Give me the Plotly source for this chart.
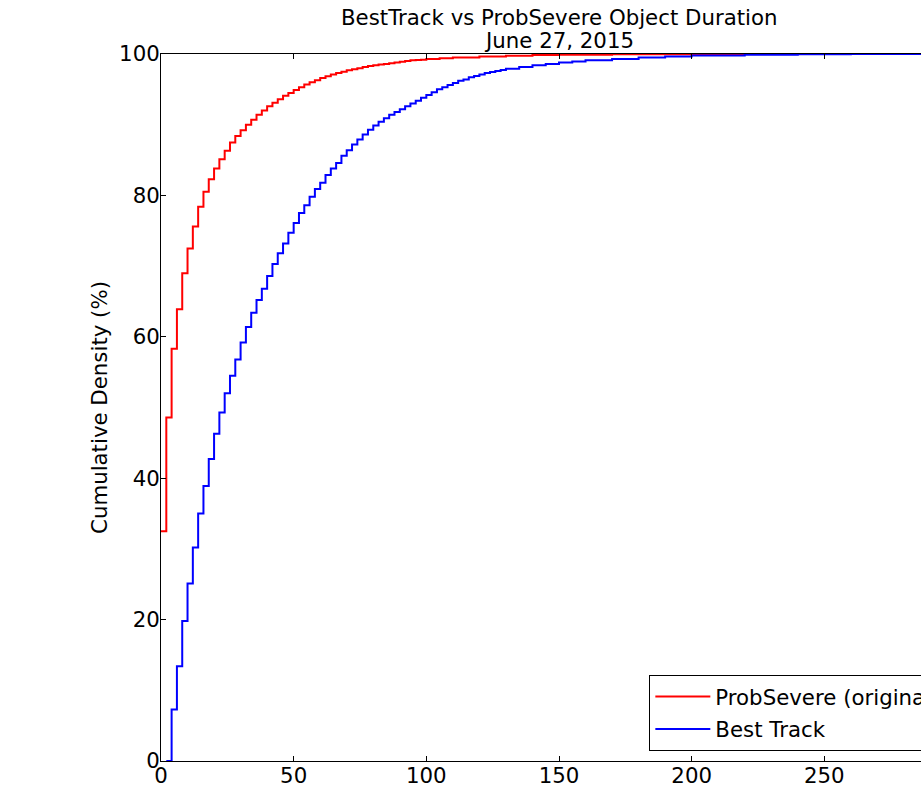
import plotly.graph_objects as go

# ProbSevere (original) cumulative density, duration (min) vs percent
red_x = [0, 2, 4, 6, 8, 10, 12, 14, 16, 18, 20, 22, 24, 26, 28, 30, 32, 34, 36, 38,
         40, 42, 44, 46, 48, 50, 52, 54, 56, 58, 60, 62, 64, 66, 68, 70, 72, 74, 76, 78,
         80, 82, 84, 86, 88, 90, 92, 94, 96, 98, 100, 105, 110, 120, 130, 140, 150, 170,
         200, 240]
red_y = [32.5, 48.6, 58.3, 63.9, 69.0, 72.5, 75.6, 78.4, 80.5, 82.3, 83.8, 85.1, 86.3,
         87.5, 88.4, 89.2, 90.0, 90.7, 91.4, 92.0, 92.6, 93.1, 93.6, 94.1, 94.5, 94.9,
         95.3, 95.7, 96.0, 96.3, 96.6, 96.85, 97.1, 97.3, 97.5, 97.7, 97.85, 98.0, 98.15,
         98.3, 98.4, 98.5, 98.6, 98.7, 98.8, 98.9, 99.0, 99.1, 99.15, 99.2, 99.3, 99.4,
         99.5, 99.65, 99.75, 99.85, 99.9, 99.95, 100.0, 100.0]

# Best Track cumulative density
blue_x = [2, 4, 6, 8, 10, 12, 14, 16, 18, 20, 22, 24, 26, 28, 30, 32, 34, 36, 38, 40,
          42, 44, 46, 48, 50, 52, 54, 56, 58, 60, 62, 64, 66, 68, 70, 72, 74, 76, 78, 80,
          82, 84, 86, 88, 90, 92, 94, 96, 98, 100, 102, 104, 106, 108, 110, 112, 114, 116,
          118, 120, 122, 124, 126, 128, 130, 135, 140, 145, 150, 155, 160, 170, 180, 190,
          200, 220, 240, 260, 290]
blue_y = [0.0, 7.3, 13.4, 19.8, 25.1, 30.2, 35.0, 38.9, 42.7, 46.3, 49.3, 52.0, 54.5,
          56.8, 59.2, 61.4, 63.4, 65.2, 66.8, 68.6, 70.3, 71.8, 73.2, 74.7, 76.1, 77.5,
          78.6, 79.8, 80.9, 81.8, 82.9, 83.8, 84.6, 85.6, 86.4, 87.2, 87.9, 88.6, 89.3,
          89.9, 90.4, 90.9, 91.4, 91.8, 92.2, 92.6, 93.0, 93.4, 93.8, 94.2, 94.6, 95.0,
          95.3, 95.6, 95.9, 96.2, 96.4, 96.7, 96.9, 97.1, 97.3, 97.45, 97.6, 97.75, 97.9,
          98.15, 98.4, 98.6, 98.8, 98.95, 99.1, 99.3, 99.5, 99.65, 99.8, 99.9, 99.95,
          100.0, 100.0]

x_ticks = [0, 50, 100, 150, 200, 250, 300]
y_ticks = [0, 20, 40, 60, 80, 100]

title_lines = ["BestTrack vs ProbSevere Object Duration", "June 27, 2015"]

FONT = "DejaVu Sans, Liberation Sans, sans-serif"
FS = 21.3

fig = go.Figure()
fig.add_trace(go.Scatter(x=red_x, y=red_y, mode="lines", line_shape="hv",
                         name="ProbSevere (original)", legendgroup="a",
                         line=dict(color="#ff0000", width=2)))
fig.add_trace(go.Scatter(x=blue_x, y=blue_y, mode="lines", line_shape="hv",
                         name="Best Track", legendgroup="b",
                         line=dict(color="#0000ff", width=2)))

axis_common = dict(showline=True, linecolor="black", linewidth=1, mirror="ticks",
                   ticks="inside", ticklen=5, tickwidth=1, tickcolor="black",
                   showgrid=False, zeroline=False, automargin=False,
                   tickfont=dict(family=FONT, size=FS, color="black"))

fig.update_xaxes(range=[0, 300], tickvals=x_ticks, ticklabelstandoff=-5, **axis_common)
fig.update_yaxes(range=[0, 100], tickvals=y_ticks, ticklabelstandoff=-4,
                 title=dict(text="Cumulative Density (%)",
                            font=dict(family=FONT, size=FS, color="black"), standoff=5),
                 **axis_common)

# two-line title, centred over the axes
fig.add_annotation(text=title_lines[0], xref="paper", yref="paper", x=0.5, y=1.0523,
                   xanchor="center", yanchor="middle", showarrow=False,
                   font=dict(family=FONT, size=FS, color="black"))
fig.add_annotation(text=title_lines[1], xref="paper", yref="paper", x=0.5, y=1.0184,
                   xanchor="center", yanchor="middle", showarrow=False,
                   font=dict(family=FONT, size=FS, color="black"))

fig.update_layout(
    width=1000, height=789,
    margin=dict(l=161, r=43, t=54, b=28),
    paper_bgcolor="white", plot_bgcolor="white",
    legend=dict(x=0.9866, y=0.0141, xanchor="right", yanchor="bottom",
                xref="paper", yref="paper",
                bgcolor="white", bordercolor="black", borderwidth=1,
                font=dict(family=FONT, size=FS, color="black"),
                itemwidth=55, tracegroupgap=2),
    showlegend=True,
)

fig.write_html("out.html",
               post_script="document.documentElement.style.overflow='hidden';"
                           "document.body.style.overflow='hidden';")
